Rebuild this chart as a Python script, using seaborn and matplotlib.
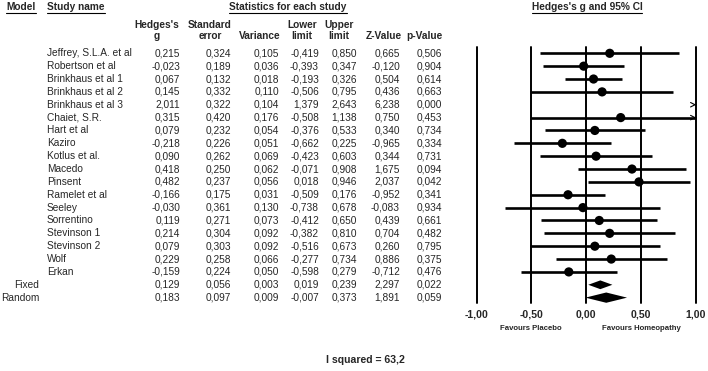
import numpy as np
import pandas as pd
import matplotlib
matplotlib.use("Agg")
import matplotlib.pyplot as plt
from matplotlib.lines import Line2D
import seaborn as sns

studies = ["Jeffrey, S.L.A. et al", "Robertson et al", "Brinkhaus et al 1", "Brinkhaus et al 2",
           "Brinkhaus et al 3", "Chaiet, S.R.", "Hart et al", "Kaziro", "Kotlus et al.", "Macedo",
           "Pinsent", "Ramelet et al", "Seeley", "Sorrentino", "Stevinson 1", "Stevinson 2",
           "Wolf", "Erkan"]
hedges_g = [0.215, -0.023, 0.067, 0.145, 2.011, 0.315, 0.079, -0.218, 0.090, 0.418,
            0.482, -0.166, -0.030, 0.119, 0.214, 0.079, 0.229, -0.159]
std_err = [0.324, 0.189, 0.132, 0.332, 0.322, 0.420, 0.232, 0.226, 0.262, 0.250,
           0.237, 0.175, 0.361, 0.271, 0.304, 0.303, 0.258, 0.224]
variance = [0.105, 0.036, 0.018, 0.110, 0.104, 0.176, 0.054, 0.051, 0.069, 0.062,
            0.056, 0.031, 0.130, 0.073, 0.092, 0.092, 0.066, 0.050]
lower = [-0.419, -0.393, -0.193, -0.506, 1.379, -0.508, -0.376, -0.662, -0.423, -0.071,
         0.018, -0.509, -0.738, -0.412, -0.382, -0.516, -0.277, -0.598]
upper = [0.850, 0.347, 0.326, 0.795, 2.643, 1.138, 0.533, 0.225, 0.603, 0.908,
         0.946, 0.176, 0.678, 0.650, 0.810, 0.673, 0.734, 0.279]
z_value = [0.665, -0.120, 0.504, 0.436, 6.238, 0.750, 0.340, -0.965, 0.344, 1.675,
           2.037, -0.952, -0.083, 0.439, 0.704, 0.260, 0.886, -0.712]
p_value = [0.506, 0.904, 0.614, 0.663, 0.000, 0.453, 0.734, 0.334, 0.731, 0.094,
           0.042, 0.341, 0.934, 0.661, 0.482, 0.795, 0.375, 0.476]

models = ["Fixed", "Random"]
m_g = [0.129, 0.183]
m_se = [0.056, 0.097]
m_var = [0.003, 0.009]
m_lo = [0.019, -0.007]
m_hi = [0.239, 0.373]
m_z = [2.297, 1.891]
m_p = [0.022, 0.059]

xticks = [-1.0, -0.5, 0.0, 0.5, 1.0]
i_squared = 63.2

sns.set_style("white")
plt.rcParams["font.family"] = ["Liberation Sans", "DejaVu Sans"]

W, H = 708, 371
fig = plt.figure(figsize=(W / 100, H / 100), dpi=100)

def px(x, y):
    return x / W, 1 - y / H

def fmt(v):
    return f"{v:.3f}".replace(".", ",")

fs = 7.3
row0, dy = 53.3, 12.86

# header texts
underline = []
t = fig.text(*px(21, 7), "Model", ha="center", va="center", fontsize=fs, weight="bold")
underline.append(t)
t = fig.text(*px(47, 7), "Study name", ha="left", va="center", fontsize=fs, weight="bold")
underline.append(t)
t = fig.text(*px(288, 7), "Statistics for each study", ha="center", va="center", fontsize=fs, weight="bold")
underline.append(t)
t = fig.text(*px(587, 7), "Hedges's g and 95% CI", ha="center", va="center", fontsize=fs, weight="bold")
underline.append(t)

col_right = [180, 231, 279, 319, 357, 400, 442]
headers = [("Hedges's", "g", 157), ("Standard", "error", 210), ("", "Variance", 260),
           ("Lower", "limit", 302), ("Upper", "limit", 339), ("", "Z-Value", 384), ("", "p-Value", 424)]
for top, bot, xc in headers:
    if top:
        fig.text(*px(xc, 25), top, ha="center", va="center", fontsize=fs, weight="bold")
    fig.text(*px(xc, 36), bot, ha="center", va="center", fontsize=fs, weight="bold")

for i, name in enumerate(studies):
    y = row0 + i * dy
    fig.text(*px(47, y), name, ha="left", va="center", fontsize=fs)
    vals = [hedges_g[i], std_err[i], variance[i], lower[i], upper[i], z_value[i], p_value[i]]
    for xr, v in zip(col_right, vals):
        fig.text(*px(xr, y), fmt(v), ha="right", va="center", fontsize=fs)

for j, name in enumerate(models):
    y = row0 + (len(studies) + j) * dy
    fig.text(*px(39, y), name, ha="right", va="center", fontsize=fs)
    vals = [m_g[j], m_se[j], m_var[j], m_lo[j], m_hi[j], m_z[j], m_p[j]]
    for xr, v in zip(col_right, vals):
        fig.text(*px(xr, y), fmt(v), ha="right", va="center", fontsize=fs)

# forest plot axes
n_rows = len(studies) + len(models)
top_px, bot_px = 47, 302.7
left_px, right_px = 476.7, 695.7
ax = fig.add_axes([left_px / W, 1 - bot_px / H, (right_px - left_px) / W, (bot_px - top_px) / H])
ax.set_xlim(-1, 1)
ax.set_ylim(19 + (bot_px - (row0 + 19 * dy)) / dy, -(row0 - top_px) / dy)

for xv in xticks:
    ax.axvline(xv, color="black", lw=1.4, clip_on=False)

df = pd.DataFrame({"study": studies, "g": hedges_g, "lo": lower, "hi": upper,
                   "row": np.arange(len(studies))})
for _, r in df.iterrows():
    lo = max(r["lo"], -1)
    hi = min(r["hi"], 1)
    if lo < hi:
        ax.plot([lo, hi], [r["row"], r["row"]], color="black", lw=1.9, solid_capstyle="butt")
    if r["hi"] > 1:
        ax.annotate("", xy=(1.005, r["row"]), xytext=(0.975, r["row"]),
                    arrowprops=dict(arrowstyle="->", lw=0.8, color="black",
                                    mutation_scale=8), annotation_clip=False)

inside = df[(df["g"] >= -1) & (df["g"] <= 1)]
sns.scatterplot(data=inside, x="g", y="row", color="black", s=44, edgecolor="none",
                ax=ax, zorder=3, legend=False)

heights = [0.34, 0.40]
for j in range(len(models)):
    row = len(studies) + j
    h = heights[j]
    ax.fill([m_lo[j], m_g[j], m_hi[j], m_g[j]], [row, row - h, row, row + h],
            color="black", lw=0)

ax.set_xticks(xticks)
ax.set_xticklabels([f"{v:.2f}".replace(".", ",") for v in xticks], fontsize=7.6, weight="bold")
ax.tick_params(axis="x", length=0, pad=5)
ax.set_yticks([])
ax.set_xlabel("")
ax.set_ylabel("")
for s in ax.spines.values():
    s.set_visible(False)

fig.text(*px(531, 329), "Favours Placebo", ha="center", va="center", fontsize=5.6, weight="bold")
fig.text(*px(641, 329), "Favours Homeopathy", ha="center", va="center", fontsize=5.6, weight="bold")
fig.text(*px(365, 360), f"I squared = {i_squared:.1f}".replace(".", ","), ha="center",
         va="center", fontsize=7.6, weight="bold")

# underline the header titles
fig.canvas.draw()
renderer = fig.canvas.get_renderer()
for t in underline:
    bb = t.get_window_extent(renderer)
    yy = (bb.y0 - 0.5) / H
    fig.add_artist(Line2D([bb.x0 / W, bb.x1 / W], [yy, yy], color="black", lw=0.8))

fig.savefig("out.png", dpi=100)
